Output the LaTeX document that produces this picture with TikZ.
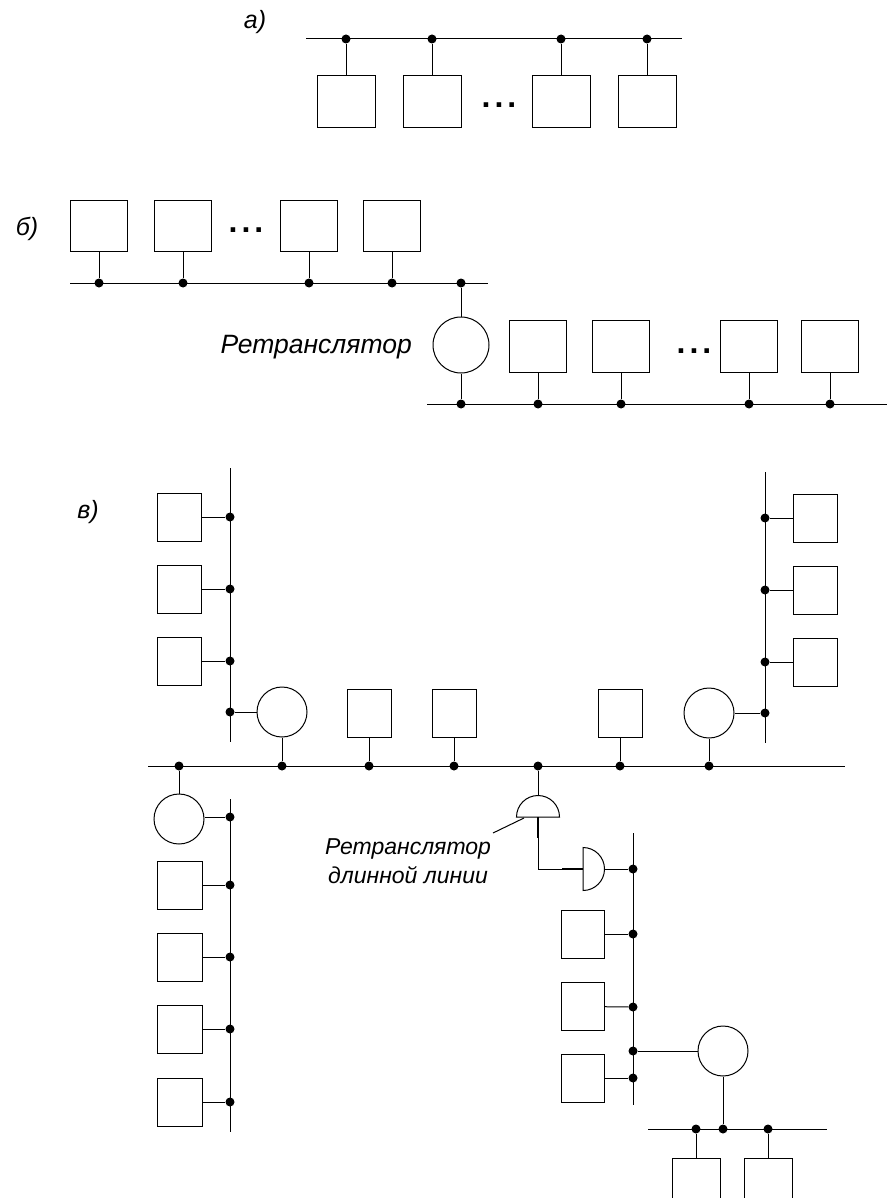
\documentclass[tikz,border=0pt]{standalone}
\usepackage{fontspec}
\setmainfont{Liberation Sans}
\begin{document}
\begin{tikzpicture}[x=1pt,y=-1pt,
  wire/.style={line width=1pt},
  stn/.style={draw, line width=1pt, rectangle, inner sep=0pt, minimum width=44pt, minimum height=48pt},
  rep/.style={draw, line width=1pt, circle, inner sep=0pt, minimum size=50pt},
  tap/.style={circle, fill, inner sep=0pt, minimum size=9pt},
  lbl/.style={font=\itshape\fontsize{25}{29}\selectfont, inner sep=0pt},
  sml/.style={font=\itshape\fontsize{23}{29}\selectfont, inner sep=0pt, align=center},
  more/.style={font=\bfseries\fontsize{32}{36}\selectfont, inner sep=0pt, anchor=base}]
\useasboundingbox (0,0) rectangle (889,1198);
\clip (0,0) rectangle (889,1198);

% ---------- a) single bus ----------
\node[lbl] (la) at (255,22) {а)};
\coordinate (aL) at (306,39);
\coordinate (aR) at (682,39);
\draw[wire] (aL) -- (aR);
\foreach \i/\x in {1/346,2/432,3/561,4/647}{
  \node[tap] (ad\i) at (\x,39) {};
  \node[stn, minimum width=58pt, minimum height=52pt] (a\i) at (\x,102) {};
  \draw[wire] (ad\i) -- (a\i);
}
\node[more] (aM) at (499,108) {.\hspace{4pt}.\hspace{4pt}.};

% ---------- b) two buses with a repeater ----------
\node[lbl] (lb) at (27,229) {б)};
\coordinate (bL) at (70,283);
\coordinate (bR) at (488,283);
\draw[wire] (bL) -- (bR);
\foreach \i/\x in {1/99,2/183,3/309,4/392}{
  \node[tap] (bd\i) at (\x,283) {};
  \node[stn, minimum width=57pt, minimum height=50pt] (b\i) at (\x,226) {};
  \draw[wire] (bd\i) -- (b\i);
}
\node[more] (bM) at (246,233) {.\hspace{4pt}.\hspace{4pt}.};
\node[tap] (bdr) at (461,283) {};
\node[rep, minimum size=56pt] (br) at (461,345) {};
\node[lbl, font=\itshape\fontsize{26.5}{30}\selectfont, anchor=base east] (brl) at (412,353) {Ретранслятор};
\coordinate (cL) at (427,404);
\coordinate (cR) at (887,404);
\draw[wire] (cL) -- (cR);
\node[tap] (cdr) at (461,404) {};
\draw[wire] (bdr) -- (br) -- (cdr);
\foreach \i/\x in {1/538,2/621,3/749,4/830}{
  \node[tap] (cd\i) at (\x,404) {};
  \node[stn, minimum width=57pt, minimum height=52pt] (c\i) at (\x,346) {};
  \draw[wire] (cd\i) -- (c\i);
}
\node[more] (cM) at (694,353) {.\hspace{4pt}.\hspace{4pt}.};

% ---------- c) tree of segments ----------
\node[lbl] (lc) at (88,512) {в)};

% main bus
\coordinate (mL) at (148,766);
\coordinate (mR) at (845,766);
\draw[wire] (mL) -- (mR);

% upper left segment
\coordinate (ulT) at (230,468);
\coordinate (ulB) at (230,742);
\draw[wire] (ulT) -- (ulB);
\foreach \i/\y in {1/517,2/589,3/661}{
  \node[tap] (uld\i) at (230,\y) {};
  \node[stn] (ul\i) at (179,\y) {};
  \draw[wire] (ul\i) -- (uld\i);
}
\node[tap] (uldr) at (230,712) {};
\node[rep] (ulr) at (282,712) {};
\node[tap] (mdul) at (282,766) {};
\draw[wire] (uldr) -- (ulr) -- (mdul);

% stations on the main bus
\foreach \i/\x in {1/369,2/454,3/620}{
  \node[tap] (md\i) at (\x,766) {};
  \node[stn] (m\i) at (\x,713) {};
  \draw[wire] (md\i) -- (m\i);
}

% upper right segment
\coordinate (urT) at (765,472);
\coordinate (urB) at (765,743);
\draw[wire] (urT) -- (urB);
\foreach \i/\y in {1/518,2/590,3/662}{
  \node[tap] (urd\i) at (765,\y) {};
  \node[stn] (ur\i) at (815,\y) {};
  \draw[wire] (urd\i) -- (ur\i);
}
\node[tap] (urdr) at (765,713) {};
\node[rep] (urr) at (709,713) {};
\node[tap] (mdur) at (709,766) {};
\draw[wire] (urdr) -- (urr) -- (mdur);

% lower left segment
\node[tap] (mdll) at (179,766) {};
\node[rep] (llr) at (179,819) {};
\coordinate (llT) at (230,799);
\coordinate (llB) at (230,1132);
\draw[wire] (llT) -- (llB);
\node[tap] (lldr) at (230,817) {};
\draw[wire] (mdll) -- (llr);
\draw[wire] (llr.east |- lldr) -- (lldr);
\foreach \i/\y in {1/885,2/957,3/1029,4/1102}{
  \node[tap] (lld\i) at (230,\y) {};
  \node[stn, minimum width=45pt] (ll\i) at (179.5,\y) {};
  \draw[wire] (ll\i) -- (lld\i);
}

% long line repeater pair
\node[tap] (mdlr) at (538,766) {};
\coordinate (h1t) at (538,795.5);
\coordinate (h1b) at (538,817);
\coordinate (h1k) at (538,838);
\coordinate (bend) at (538,869);
\coordinate (h2k) at (562,869);
\coordinate (h2l) at (583,869);
\coordinate (h2r) at (604.5,869);
\draw[wire] (516.5,817) arc[start angle=180, end angle=0, radius=21.5pt] -- cycle;
\draw[wire] (583,847.5) arc[start angle=90, end angle=-90, radius=21.5pt] -- cycle;
\draw[wire] (mdlr) -- (h1t);
\draw[line width=2.2pt] (h1b) -- (h1k);
\draw[wire] (h1k) -- (bend) -- (h2k);
\draw[line width=2.2pt] (h2k) -- (h2l);
\node[sml] (lrl) at (408,861) {Ретранслятор\\длинной линии};
\coordinate (lrp) at (524,818);
\draw[wire] (493,833) -- (lrp);

% lower right segment
\coordinate (lrT) at (633,833);
\coordinate (lrB) at (633,1105);
\draw[wire] (lrT) -- (lrB);
\node[tap] (lrdr) at (633,869) {};
\draw[wire] (h2r) -- (lrdr);
\foreach \i/\y/\c in {1/934/934,2/1007/1006.5,3/1078/1078}{
  \node[tap] (lrd\i) at (633,\y) {};
  \node[stn, minimum width=43pt] (lr\i) at (582.5,\c) {};
  \draw[wire] (lr\i) -- (lrd\i);
}
\node[tap] (lrdc) at (633,1051) {};
\node[rep] (lrc) at (723,1051) {};
\node[tap] (bbd) at (723,1129) {};
\draw[wire] (lrdc) -- (lrc) -- (bbd);

% bottom bus
\coordinate (bbL) at (648,1129);
\coordinate (bbR) at (827,1129);
\draw[wire] (bbL) -- (bbR);
\foreach \i/\x in {1/696,2/768}{
  \node[tap] (bbd\i) at (\x,1129) {};
  \node[stn, minimum width=48pt, minimum height=70pt] (bb\i) at (\x,1193) {};
  \draw[wire] (bbd\i) -- (bb\i);
}
\end{tikzpicture}
\end{document}
